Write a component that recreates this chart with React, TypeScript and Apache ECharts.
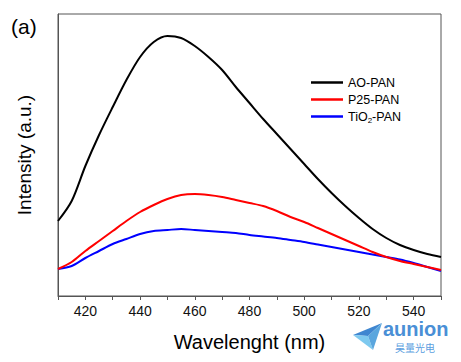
import React, { useEffect, useRef } from "react";
import * as echarts from "echarts";

const wavelengths = [410, 415, 420, 425, 430, 435, 440, 445, 450, 455, 460, 465, 470, 475, 480, 485, 490, 495, 500, 505, 510, 515, 520, 525, 530, 535, 540, 545, 550];
const aoPan = [75, 95, 130, 161, 189, 216, 239, 254, 260, 258, 250, 239, 226, 209, 193, 177, 162, 147, 132, 117, 103, 90, 78, 67, 58, 51, 46, 42, 39];
const p25Pan = [27, 34, 45, 55, 65, 75, 84, 91, 97, 101, 102, 101, 99, 96, 93, 90, 85, 79, 74, 68, 62, 56, 50, 44, 39, 35, 32, 29, 26];
const tio2Pan = [27, 30, 38, 45, 52, 57, 62, 65, 66, 67, 66, 65, 64, 63, 61, 59.5, 58, 56, 54, 51.5, 49, 46.5, 44, 41.5, 39, 36.5, 33, 29, 25];
const seriesNames = ["AO-PAN", "P25-PAN", "TiO2-PAN"];
const seriesColors = ["#000000", "#ff0000", "#0000ff"];

const FONT = "'Liberation Sans', Arial, sans-serif";

export default function App() {
  const ref = useRef<HTMLDivElement>(null);
  useEffect(() => {
    if (!ref.current) return;
    const chart = echarts.init(ref.current, null, { renderer: "svg" });
    const all = [aoPan, p25Pan, tio2Pan];
    chart.setOption({
      animation: false,
      backgroundColor: "#ffffff",
      textStyle: { fontFamily: FONT },
      grid: {
        left: 58,
        top: 14,
        right: 20,
        bottom: 66,
        show: true,
        borderColor: "#555555",
        borderWidth: 1,
      },
      legend: {
        orient: "vertical",
        left: 311,
        top: 76,
        padding: 0,
        itemWidth: 32,
        itemHeight: 2.5,
        itemGap: 4,
        icon: "rect",
        data: seriesNames,
        textStyle: {
          fontFamily: FONT,
          fontSize: 12.5,
          color: "#000",
          rich: {
            a: { fontFamily: FONT, fontSize: 12.5, color: "#000" },
            s: { fontFamily: FONT, fontSize: 8, color: "#000", padding: [8, 0, 0, 0] },
          },
        },
        formatter: (name: string) =>
          name === "TiO2-PAN" ? "{a|TiO}{s|2}{a|-PAN}" : name,
      },
      xAxis: {
        type: "value",
        min: 410,
        max: 550,
        interval: 10,
        name: "Wavelenght (nm)",
        nameLocation: "middle",
        nameGap: 36,
        nameTextStyle: { fontFamily: FONT, fontSize: 20, color: "#000" },
        axisLine: { show: true, lineStyle: { color: "#555555", width: 1 } },
        axisTick: { show: true, inside: false, length: 4, lineStyle: { color: "#555555" } },
        axisLabel: {
          fontFamily: FONT,
          fontSize: 14,
          color: "#111",
          margin: 8,
          formatter: (v: number) => (v % 20 === 0 ? String(v) : ""),
        },
        splitLine: { show: false },
      },
      yAxis: {
        type: "value",
        min: 0,
        max: 282,
        name: "Intensity (a.u.)",
        nameLocation: "middle",
        nameGap: 24,
        nameTextStyle: { fontFamily: FONT, fontSize: 19, color: "#000" },
        axisLine: { show: true, lineStyle: { color: "#555555", width: 1 } },
        axisTick: { show: false },
        axisLabel: { show: false },
        splitLine: { show: false },
      },
      series: all.map((vals, i) => ({
        type: "line",
        name: seriesNames[i],
        data: wavelengths.map((w, j) => [w, vals[j]]),
        smooth: 0.3,
        symbol: "none",
        lineStyle: { color: seriesColors[i], width: 2 },
        itemStyle: { color: seriesColors[i] },
        z: 3 - i,
      })),
      graphic: [
        {
          type: "text",
          left: 11,
          top: 16,
          style: { text: "(a)", fontFamily: FONT, fontSize: 21, fill: "#000" },
        },
        {
          type: "polygon",
          shape: { points: [[353, 335], [382, 323], [368, 336]] },
          style: { fill: "#3f86d0" },
        },
        {
          type: "polygon",
          shape: { points: [[353, 335], [368, 336], [373, 350]] },
          style: { fill: "#7ec9ef" },
        },
        {
          type: "polygon",
          shape: { points: [[368, 336], [382, 323], [373, 350]] },
          style: { fill: "#5aa6de" },
        },
        {
          type: "text",
          left: 383,
          top: 319,
          style: { text: "aunion", fontFamily: FONT, fontSize: 20, lineHeight: 20, fontWeight: "bold", fill: "#4a8fd6" },
        },
        {
          type: "text",
          left: 395,
          top: 342,
          style: { text: "昊量光电", fontFamily: "'Noto Sans CJK SC', sans-serif", fontSize: 10, lineHeight: 10, fill: "#5b9ee0" },
        },
      ],
    });
    return () => chart.dispose();
  }, []);
  return (
    <div
      ref={ref}
      style={{ position: "fixed", left: 0, top: 0, width: 461, height: 362 }}
    />
  );
}
